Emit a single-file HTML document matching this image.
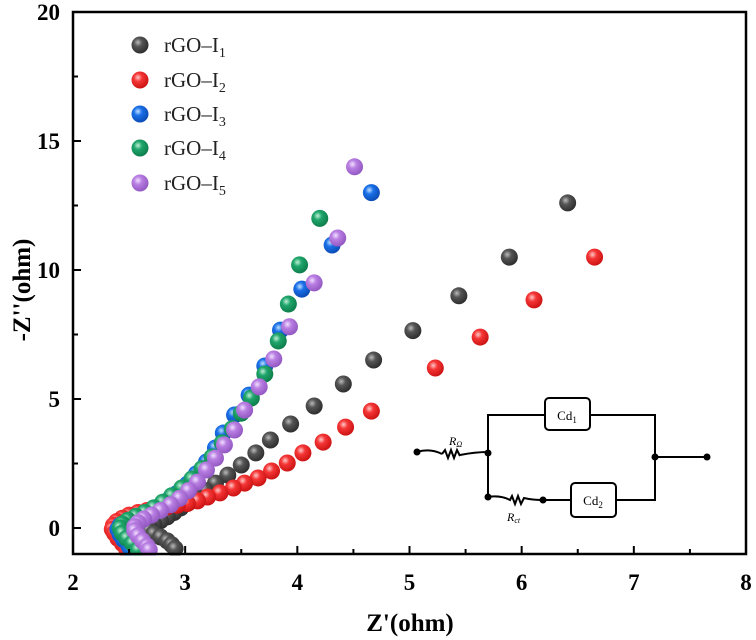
<!DOCTYPE html>
<html><head><meta charset="utf-8"><style>
body{margin:0;background:#fff}
svg{display:block;font-family:"Liberation Serif",serif}
</style></head><body>
<svg id="chart" width="756" height="640" viewBox="0 0 756 640">
<defs>
<radialGradient id="g-gray" cx="0.38" cy="0.35" r="0.7"><stop offset="0" stop-color="#bbb"/><stop offset="0.35" stop-color="#555"/><stop offset="1" stop-color="#2a2a2a"/></radialGradient>
<radialGradient id="g-red" cx="0.38" cy="0.35" r="0.7"><stop offset="0" stop-color="#ffc8c8"/><stop offset="0.35" stop-color="#f53535"/><stop offset="1" stop-color="#c81010"/></radialGradient>
<radialGradient id="g-blue" cx="0.38" cy="0.35" r="0.7"><stop offset="0" stop-color="#c0e0ff"/><stop offset="0.35" stop-color="#1a70e8"/><stop offset="1" stop-color="#0a48b0"/></radialGradient>
<radialGradient id="g-green" cx="0.38" cy="0.35" r="0.7"><stop offset="0" stop-color="#c0f0d8"/><stop offset="0.35" stop-color="#1fa56b"/><stop offset="1" stop-color="#0c7a48"/></radialGradient>
<radialGradient id="g-purple" cx="0.38" cy="0.35" r="0.7"><stop offset="0" stop-color="#f2e0ff"/><stop offset="0.35" stop-color="#b87ee2"/><stop offset="1" stop-color="#8f55bf"/></radialGradient>
</defs>
<g id="marks"></g>
<g id="axes"></g>
<g id="legend"></g>
<g id="circuit" stroke="#000" stroke-width="2" fill="none">
<path d="M417 452 Q430 448 442 454"/>
<path d="M442 454 l3 -4 l3 8 l3 -8 l3 8 l3 -8 l3 6 M460 455 Q475 452 488 452"/>
<path d="M488 452 V415 H545 M590 415 H655 V500 H616 M488 452 V497"/>
<path d="M488 497 Q500 495 510 500 l2 -4 l3 8 l3 -8 l3 8 l3 -6 Q532 500 543 500 H571"/>
<path d="M655 457 H707"/>
<rect x="545" y="398" width="45" height="32" rx="4" fill="#fff"/>
<rect x="571" y="483" width="45" height="34" rx="4" fill="#fff"/>
<g fill="#000" stroke="none">
<circle cx="417" cy="452" r="3.5"/><circle cx="488" cy="453" r="3.5"/><circle cx="488" cy="497" r="3.5"/><circle cx="543" cy="500" r="3.5"/><circle cx="655" cy="457" r="3.5"/><circle cx="707" cy="457" r="3.5"/>
<text x="567" y="420" font-size="13" text-anchor="middle" font-family="Liberation Serif, serif">Cd<tspan font-size="9" dy="3">1</tspan></text>
<text x="593" y="505" font-size="13" text-anchor="middle" font-family="Liberation Serif, serif">Cd<tspan font-size="9" dy="3">2</tspan></text>
<text x="449" y="445" font-size="12" font-style="italic" font-family="Liberation Serif, serif">R<tspan font-size="8" dy="2">Ω</tspan></text>
<text x="507" y="521" font-size="12" font-style="italic" font-family="Liberation Serif, serif">R<tspan font-size="8" dy="2">ct</tspan></text>
</g>
</g>
</svg>
<script>
const xTicks = [2,3,4,5,6,7,8];
const yTicks = [0,5,10,15,20];
const seriesNames = ["rGO-I1","rGO-I2","rGO-I3","rGO-I4","rGO-I5"];
const grayX = [6.41,5.89,5.44,5.03,4.68,4.41,4.15,3.94,3.76,3.63,3.5,3.38,3.27,3.18,3.1,3.03,2.96,2.9,2.84,2.78,2.72,2.68,2.68,2.72,2.78,2.84,2.88,2.91];
const grayY = [12.6,10.5,9.0,7.65,6.51,5.58,4.73,4.03,3.41,2.91,2.44,2.05,1.74,1.45,1.2,0.98,0.78,0.6,0.43,0.28,0.15,0.03,-0.1,-0.22,-0.35,-0.5,-0.65,-0.8];
const redX = [6.65,6.11,5.63,5.23,4.66,4.43,4.23,4.05,3.91,3.77,3.65,3.53,3.43,3.31,3.2,3.11,3.02,2.93,2.84,2.75,2.66,2.58,2.5,2.44,2.39,2.36,2.35,2.37,2.4,2.44,2.48];
const redY = [10.5,8.84,7.4,6.2,4.53,3.91,3.33,2.91,2.52,2.21,1.94,1.74,1.55,1.36,1.2,1.05,0.95,0.88,0.82,0.75,0.68,0.6,0.5,0.38,0.25,0.1,-0.05,-0.2,-0.4,-0.6,-0.85];
const blueX = [4.66,4.31,4.04,3.85,3.71,3.57,3.44,3.34,3.27,3.19,3.1,3.02,2.93,2.84,2.75,2.66,2.56,2.48,2.42,2.4,2.42,2.45,2.5,2.52];
const blueY = [13.0,10.97,9.26,7.67,6.28,5.15,4.38,3.68,3.1,2.56,2.1,1.7,1.35,1.05,0.8,0.6,0.42,0.25,0.1,-0.05,-0.25,-0.45,-0.7,-0.85];
const greenX = [4.2,4.02,3.92,3.83,3.71,3.59,3.5,3.42,3.33,3.24,3.15,3.06,2.97,2.88,2.8,2.72,2.64,2.56,2.49,2.44,2.42,2.44,2.48,2.53,2.58];
const greenY = [12.0,10.2,8.68,7.25,5.97,5.04,4.45,3.85,3.3,2.75,2.3,1.9,1.55,1.25,1.0,0.78,0.6,0.45,0.3,0.15,0,-0.2,-0.4,-0.6,-0.85];
const purpleX = [4.51,4.36,4.15,3.93,3.79,3.66,3.53,3.44,3.35,3.27,3.19,3.11,3.03,2.95,2.87,2.78,2.7,2.63,2.58,2.55,2.55,2.58,2.62,2.66,2.68];
const purpleY = [14.0,11.24,9.5,7.8,6.55,5.47,4.57,3.8,3.22,2.71,2.25,1.78,1.45,1.15,0.9,0.68,0.5,0.35,0.2,0.05,-0.1,-0.3,-0.5,-0.7,-0.85];

const NS = "http://www.w3.org/2000/svg";
const L = 73, R = 746, T = 12, B = 554;
const X = v => L + (v - 2) * (R - L) / 6;
const Y = v => 528 - v * 25.8;
function mk(tag, attrs, parent){const e=document.createElementNS(NS,tag);for(const k in attrs)e.setAttribute(k,attrs[k]);parent.appendChild(e);return e;}

const marks = document.getElementById('marks');
const series = [[grayX,grayY,'gray'],[redX,redY,'red'],[blueX,blueY,'blue'],[greenX,greenY,'green'],[purpleX,purpleY,'purple']];
series.forEach(([xs,ys,c],si)=>{
  const g = mk('g',{},marks);
  
  
  xs.forEach((xv,i)=>{
    const p = mk('circle',{cx:X(xv),cy:Y(ys[i]),r:8.5,fill:'url(#g-'+c+')'},g);
    
    
  });
});

const axes = document.getElementById('axes');
// white out overflow below axis
mk('rect',{x:0,y:B+1.5,width:756,height:640-B,fill:'#fff'},axes);
const frame = mk('rect',{x:L,y:T,width:R-L,height:B-T,fill:'none',stroke:'#000','stroke-width':2.5},axes);


xTicks.forEach((v,i)=>{
  mk('line',{x1:X(v),x2:X(v),y1:B,y2:B-8,stroke:'#000','stroke-width':2},axes);
  if(i<xTicks.length-1) mk('line',{x1:X(v+0.5),x2:X(v+0.5),y1:B,y2:B-5,stroke:'#000','stroke-width':2},axes);
  const t = mk('text',{x:X(v),y:590,'text-anchor':'middle','font-size':23,'font-weight':'bold'},axes);
  t.textContent = v;
  
  
});
yTicks.forEach((v,i)=>{
  mk('line',{x1:L,x2:L+8,y1:Y(v),y2:Y(v),stroke:'#000','stroke-width':2},axes);
  if(i<yTicks.length-1) mk('line',{x1:L,x2:L+5,y1:Y(v+2.5),y2:Y(v+2.5),stroke:'#000','stroke-width':2},axes);
  const t = mk('text',{x:60,y:Y(v)+8,'text-anchor':'end','font-size':23,'font-weight':'bold'},axes);
  t.textContent = v;
  
  
});
const xt = mk('text',{x:410,y:631,'text-anchor':'middle','font-size':25,'font-weight':'bold'},axes);
xt.textContent = "Z'(ohm)";


const yt = mk('text',{x:0,y:0,'text-anchor':'middle','font-size':25,'font-weight':'bold',transform:'translate(30,290) rotate(-90)'},axes);
yt.textContent = "-Z''(ohm)";



const legend = document.getElementById('legend');


const cols = ['gray','red','blue','green','purple'];
const ly = [45,80,114,148,183];
seriesNames.forEach((n,i)=>{
  const g = mk('g',{},legend);
  
  
  mk('circle',{cx:140,cy:ly[i],r:8.5,fill:'url(#g-'+cols[i]+')'},g);
  const t = mk('text',{x:164,y:ly[i]+7,'font-size':21,fill:'#222'},g);
  t.textContent = 'rGO\u2013I';
  const s = mk('tspan',{'font-size':14,dy:5},t);
  s.textContent = n.slice(-1);
});
</script>
</body></html>
